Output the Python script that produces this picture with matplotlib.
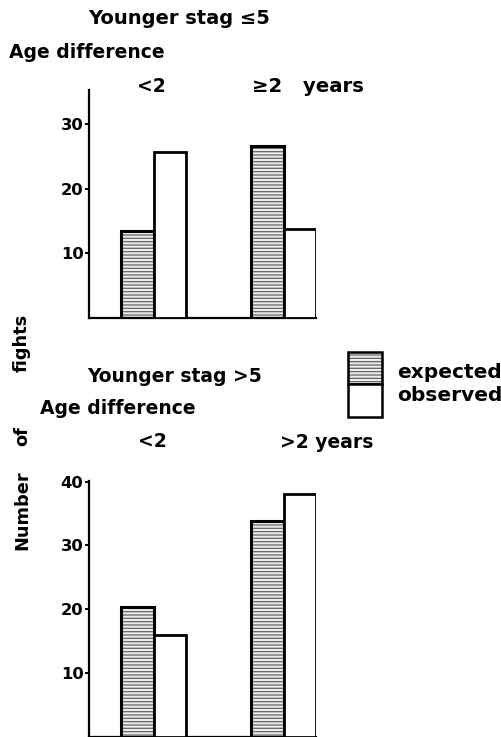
import matplotlib
matplotlib.use("Agg")
import matplotlib.pyplot as plt
from matplotlib.patches import Rectangle

# Fight counts by age difference of the pair
groups = ["<2", "≥2 years"]
young_expected = [13.4, 26.6]
young_observed = [25.7, 13.8]

groups_old = ["<2", ">2 years"]
old_expected = [20.3, 33.9]
old_observed = [16.0, 38.1]

y_ticks_young = [10, 20, 30]
y_ticks_old = [10, 20, 30, 40]

W, H = 502, 737
plt.rcParams["font.family"] = ["DejaVu Sans"]
plt.rcParams["font.weight"] = "bold"
plt.rcParams["hatch.linewidth"] = 0.9

fig = plt.figure(figsize=(W / 100, H / 100), dpi=100)


def px_axes(left, top, right, bottom):
    return fig.add_axes([left / W, 1 - bottom / H, (right - left) / W, (bottom - top) / H])


def draw_panel(ax, expected, observed, ymax, ticks):
    bw = 0.25
    xs = list(range(len(expected)))
    xe = [x - bw / 2 for x in xs]
    xo = [x + bw / 2 for x in xs]
    # hatched fill for expected, then black outlines on top
    ax.bar(xe, expected, width=bw, color="#ececec", hatch="-----",
           edgecolor="#666666", linewidth=0, zorder=2)
    ax.bar(xe, expected, width=bw, fill=False, edgecolor="black", linewidth=2.2, zorder=3)
    ax.bar(xo, observed, width=bw, color="white", edgecolor="black", linewidth=2.0, zorder=3)
    ax.set_xlim(-0.496, 1.25)
    ax.set_ylim(0, ymax)
    ax.set_yticks(ticks)
    ax.set_yticklabels([str(t) for t in ticks], fontsize=11.8, fontweight="bold")
    ax.set_xticks([])
    for s in ("top", "right"):
        ax.spines[s].set_visible(False)
    ax.spines["left"].set_linewidth(1.6)
    ax.spines["bottom"].set_linewidth(1.6)
    ax.tick_params(axis="y", direction="out", length=3, width=1.4, pad=1)
    ax.patch.set_alpha(0)


ax1 = px_axes(89, 90, 316.5, 317.5)
draw_panel(ax1, young_expected, young_observed, 35.3, y_ticks_young)

ax2 = px_axes(89, 480.7, 316.5, 736.5)
draw_panel(ax2, old_expected, old_observed, 40.15, y_ticks_old)


def ftext(x, y, s, size=13.5, va="center", **kw):
    fig.text(x / W, 1 - y / H, s, fontsize=size, fontweight="bold", va=va, **kw)


# Upper panel headings
ftext(88, 18, "Younger stag ≤5", size=14)
ftext(9, 52, "Age difference", size=13.5)
ftext(137, 86, "<2", size=13.5)
ftext(252, 86, "≥2   years", size=14.2)

# Lower panel headings
ftext(87, 377, "Younger stag >5", size=13.5)
ftext(40, 409, "Age difference", size=13.5)
ftext(138, 441, "<2", size=13.5)
ftext(280, 442, ">2 years", size=13.5)

# Shared y label, words spaced out along the left edge
for word, yc in (("Number", 510), ("of", 436), ("fights", 343)):
    fig.text(22 / W, 1 - yc / H, word, rotation=90, fontsize=12.8,
             fontweight="bold", ha="center", va="center")

# Legend key
lx0, lx1 = 348, 382
ly0, lmid, ly1 = 352, 384, 417
fig.patches.append(Rectangle((lx0 / W, 1 - lmid / H), (lx1 - lx0) / W, (lmid - ly0) / H,
                             transform=fig.transFigure, facecolor="#ececec", hatch="-----",
                             edgecolor="#666666", linewidth=0))
fig.patches.append(Rectangle((lx0 / W, 1 - lmid / H), (lx1 - lx0) / W, (lmid - ly0) / H,
                             transform=fig.transFigure, fill=False, edgecolor="black", linewidth=1.8))
fig.patches.append(Rectangle((lx0 / W, 1 - ly1 / H), (lx1 - lx0) / W, (ly1 - lmid) / H,
                             transform=fig.transFigure, facecolor="white", edgecolor="black",
                             linewidth=1.8))
ftext(397, 378, "expected", size=14.5, va="baseline")
ftext(397, 401, "observed", size=14.5, va="baseline")

fig.savefig("out.png", dpi=100)
